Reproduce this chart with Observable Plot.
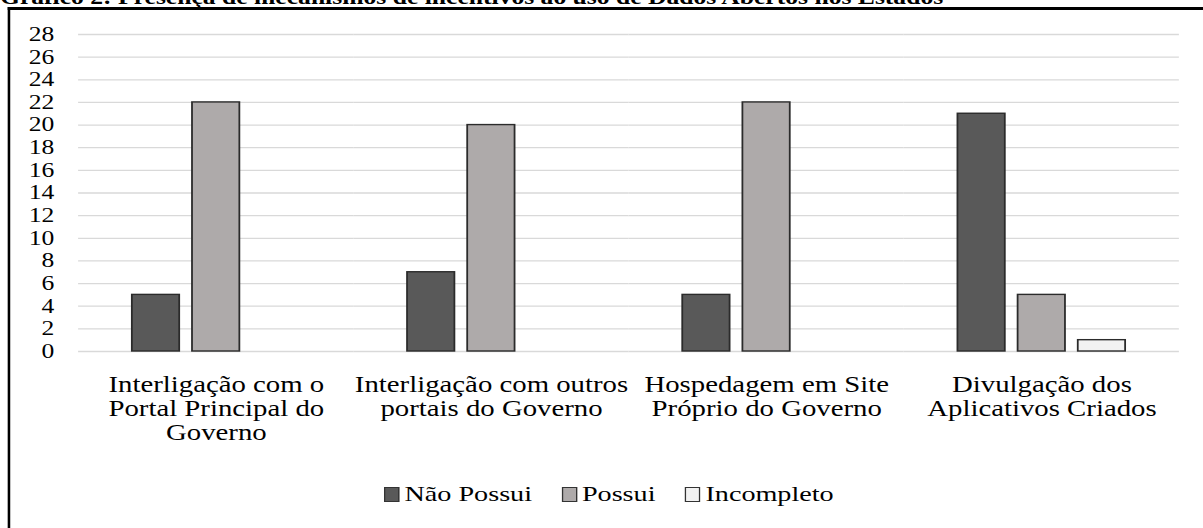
<!DOCTYPE html>
<html>
<head>
<meta charset="utf-8">
<script src="https://cdn.jsdelivr.net/npm/d3@7"></script>
<script src="https://cdn.jsdelivr.net/npm/@observablehq/plot@0.6"></script>
<style>
  html, body { margin: 0; padding: 0; background: #fff; overflow: hidden; width: 1203px; height: 528px; }
  #wrap { position: absolute; left: 0; top: 0; width: 940px; height: 528px; transform: scaleX(1.28); transform-origin: 0 0; font-family: 'Liberation Serif', 'Times New Roman', serif; color: #000; }
  #title { position: absolute; left: 0; top: -13px; font-size: 20px; line-height: 1; font-weight: bold; white-space: nowrap; }
  #frame { position: absolute; left: 6px; top: 7px; width: 2000px; height: 1000px; border-left: 2.4px solid #000; border-top: 3px solid #000; box-sizing: border-box; }
  #chart { position: absolute; left: 0; top: 0; }
  #legend { position: absolute; top: 481px; left: 300px; display: flex; align-items: center; font-size: 22px; line-height: 26px; white-space: nowrap; }
  #legend .item { display: flex; align-items: center; margin-right: 23px; }
  #legend .sw { display: inline-block; width: 10px; height: 13px; border: 1px solid #333; margin-right: 4px; }
</style>
</head>
<body>
<div id="wrap">
  <div id="title">Gráfico 2: Presença de mecanismos de incentivos ao uso de Dados Abertos nos Estados</div>
  <div id="frame"></div>
  <div id="chart"></div>
  <div id="legend"></div>
</div>
<script>
const categories = [
  "Interligação com o Portal Principal do Governo",
  "Interligação com outros portais do Governo",
  "Hospedagem em Site Próprio do Governo",
  "Divulgação dos Aplicativos Criados"
];
const categoryLabels = [
  "Interligação com o\nPortal Principal do\nGoverno",
  "Interligação com outros\nportais do Governo",
  "Hospedagem em Site\nPróprio do Governo",
  "Divulgação dos\nAplicativos Criados"
];
const series = ["Não Possui", "Possui", "Incompleto"];
const naoPossui = [5, 7, 5, 21];
const possui = [22, 20, 22, 5];
const incompleto = [0, 0, 0, 1];
const colors = ["#595959", "#aeaaaa", "#f2f2f2"];
const yTicks = [0, 2, 4, 6, 8, 10, 12, 14, 16, 18, 20, 22, 24, 26, 28];

const seriesValues = [naoPossui, possui, incompleto];
const data = categories.flatMap((c, i) =>
  series.map((s, j) => ({category: c, series: s, value: seriesValues[j][i]}))
);
const labelMap = new Map(categories.map((c, i) => [c, categoryLabels[i]]));

const chart = Plot.plot({
  width: 940,
  height: 470,
  marginLeft: 60,
  marginRight: 18,
  marginTop: 34,
  marginBottom: 119,
  style: {fontFamily: "'Liberation Serif', 'Times New Roman', serif", color: "#000", background: "transparent", overflow: "visible"},
  fx: {domain: categories, padding: 0, axis: null, label: null},
  x: {domain: series, paddingInner: 0.22, paddingOuter: 0.85, axis: null},
  y: {domain: [0, 28], axis: null},
  color: {domain: series, range: colors},
  marks: [
    Plot.gridY(yTicks, {stroke: "#d9d9d9", strokeOpacity: 1, strokeWidth: 1.3}),
    Plot.barY(data, {
      filter: d => d.value > 0,
      fx: "category", x: "series", y: "value",
      fill: "series", stroke: "#2b2b2b", strokeWidth: 1.4
    }),
    Plot.axisY(yTicks, {tickSize: 0, tickPadding: 19, fontSize: 20, label: null}),
    Plot.axisFx({
      anchor: "bottom",
      tickSize: 0, tickPadding: 24, fontSize: 22.5, lineHeight: 1.05,
      lineAnchor: "top", label: null,
      tickFormat: d => labelMap.get(d)
    })
  ]
});
document.getElementById("chart").appendChild(chart);

const legend = document.getElementById("legend");
series.forEach((s, i) => {
  const item = document.createElement("div");
  item.className = "item";
  const sw = document.createElement("span");
  sw.className = "sw";
  sw.style.background = colors[i];
  const label = document.createElement("span");
  label.textContent = s;
  item.appendChild(sw);
  item.appendChild(label);
  legend.appendChild(item);
});
</script>
</body>
</html>
